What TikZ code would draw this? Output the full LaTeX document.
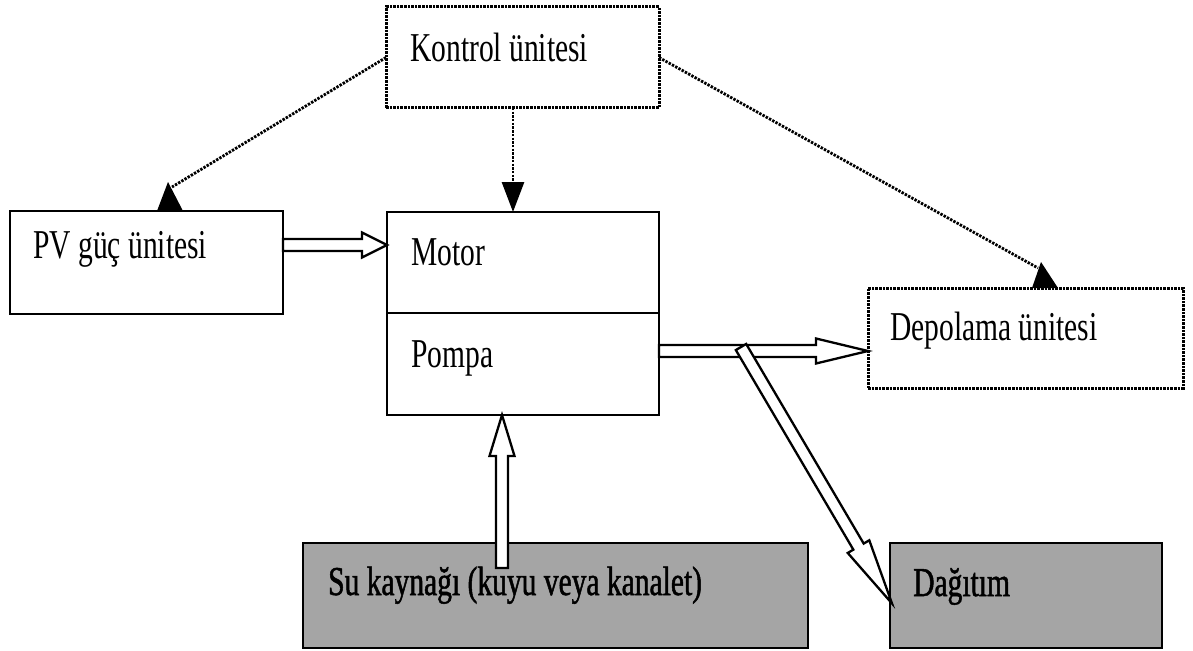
\documentclass[tikz,border=0pt]{standalone}
\usepackage{fontspec}
\setmainfont[FakeStretch=0.72]{Liberation Serif}
\newfontfamily\smudgefont[FakeStretch=0.72,FakeBold=1.2]{Liberation Serif}
\usetikzlibrary{calc,arrows.meta}
\definecolor{shadegray}{RGB}{165,165,165}
\newcommand\harrow[3][27]{%
  \path let \p1=($(#3)-(#2)$) in
    \pgfextra{\pgfmathparse{atan2(\y1,\x1)}\xdef\harang{\pgfmathresult}%
              \pgfmathparse{veclen(\x1,\y1)}\xdef\harlen{\pgfmathresult}};
  \begin{scope}[shift={(#2)}, rotate=\harang]
    \draw[hollow] (0,-6) -- (\harlen-#1,-6) -- (\harlen-#1,-12.5) -- (\harlen,0)
      -- (\harlen-#1,12.5) -- (\harlen-#1,6) -- (0,6) -- cycle;
  \end{scope}}
\begin{document}
\begin{tikzpicture}[x=1pt,y=-1pt,
  box/.style={draw, line width=2.4pt, inner sep=0pt, outer sep=0pt, anchor=north west},
  dotbox/.style={box, dash pattern=on 2.6pt off 1pt, line width=3pt},
  shadebox/.style={box, fill=shadegray, line width=2.4pt},
  lbl/.style={anchor=base west, inner sep=0pt, font=\fontsize{41}{41}\selectfont},
  slbl/.style={lbl, font=\smudgefont\fontsize{41}{41}\selectfont},
  ctrl/.style={line width=2.8pt, dash pattern=on 2.4pt off 1.3pt},
  hollow/.style={draw, fill=white, line width=2.3pt, line join=miter},
]
\useasboundingbox (0,0) rectangle (1193,650);

% boxes
\node[dotbox, minimum width=273pt, minimum height=101pt] (kontrol) at (386,7) {};
\node[lbl] (kontroltxt) at (410,62) {Kontrol ünitesi};

\node[box, minimum width=273pt, minimum height=103pt] (pv) at (10,211) {};
\node[lbl] (pvtxt) at (33,258) {PV güç ünitesi};

\node[box, minimum width=272pt, minimum height=203pt] (mp) at (387,212) {};
\draw[line width=2.4pt] ($(mp.north west)+(0,101)$) -- ($(mp.north east)+(0,101)$);
\node[lbl] (motortxt) at (411,265) {Motor};
\node[lbl] (pompatxt) at (411,367) {Pompa};

\node[dotbox, minimum width=315pt, minimum height=100pt] (depo) at (868,288) {};
\node[lbl] (depotxt) at (890,340) {Depolama ünitesi};

\node[shadebox, minimum width=505pt, minimum height=105pt] (su) at (303,543) {};
\node[slbl] (sutxt) at (328,595) {Su kaynağı (kuyu veya kanalet)};

\node[shadebox, minimum width=272pt, minimum height=105pt] (dag) at (890,543) {};
\node[slbl] (dagtxt) at (913,596) {Dağıtım};

% control connectors
\coordinate (pvtip) at ($(pv.north west)+(162,-24)$);
\draw[ctrl] (kontrol.west) -- (pvtip);
\fill ($(pv.north west)+(147,0)$) -- ($(pv.north west)+(158,-29)$) -- ($(pv.north west)+(173,0)$) -- cycle;

\coordinate (depotip) at ($(depo.north west)+(170,-20)$);
\draw[ctrl] (kontrol.east) -- (depotip);
\fill ($(depo.north west)+(164,0)$) -- ($(depo.north west)+(173,-26)$) -- ($(depo.north west)+(190,0)$) -- cycle;

\draw[ctrl, -{Triangle[length=30pt,width=22pt]}] ($(kontrol.south west)+(127,0)$) -- ($(mp.north west)+(126,0)$);

% flow arrows
\harrow[25]{$(pv.north east)+(0,34)$}{$(mp.north west)+(0,33)$}
\harrow[52]{$(mp.north east)+(0,139)$}{$(depo.north west)+(0,63)$}
\coordinate (suout) at (502,568);
\harrow[41]{suout}{$(mp.south west)+(115,0)$}
\coordinate (split) at (741,347);
\harrow[66]{split}{$(dag.west)+(2,8)$}
\end{tikzpicture}
\end{document}
